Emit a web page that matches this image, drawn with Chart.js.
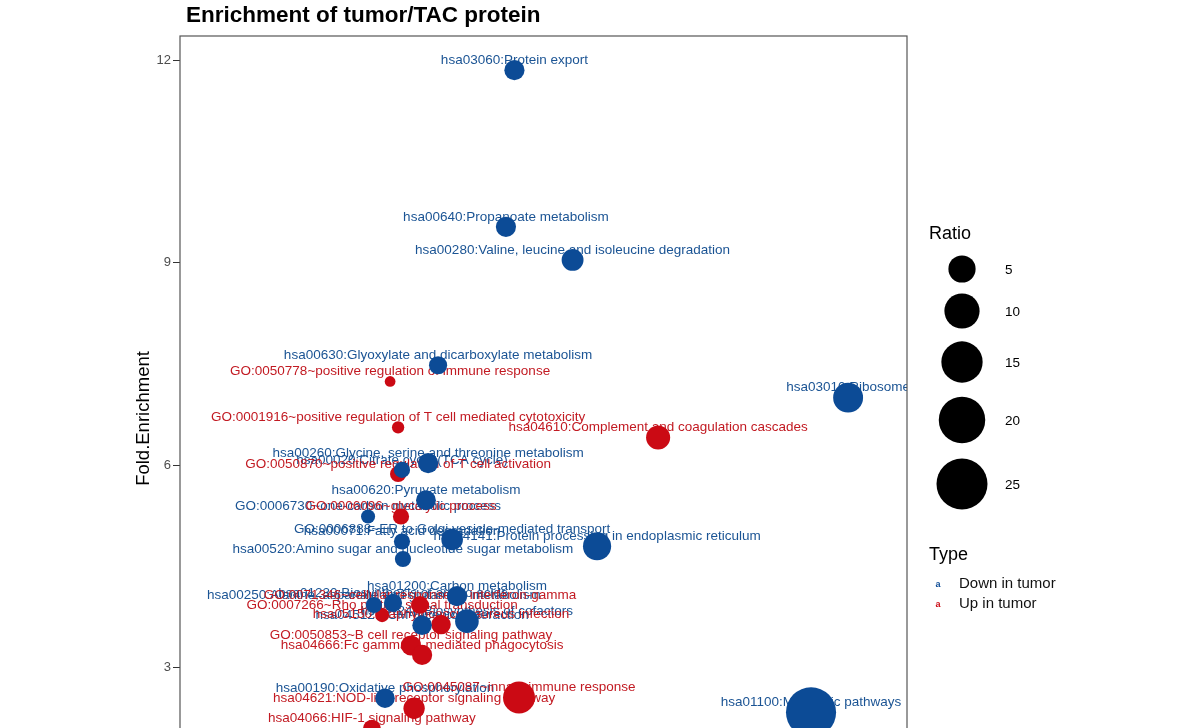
<!DOCTYPE html>
<html>
<head>
<meta charset="utf-8">
<script src="https://cdn.jsdelivr.net/npm/chart.js@4.4.1/dist/chart.umd.min.js"></script>
<style>
html, body { margin: 0; padding: 0; background: #fff; overflow: hidden; }
</style>
</head>
<body>
<canvas id="myChart" width="1200" height="860"></canvas>
<script>
/* data: Down in tumor */
const downTerms = [
    'hsa03060:Protein export',
    'hsa00640:Propanoate metabolism',
    'hsa00280:Valine, leucine and isoleucine degradation',
    'hsa00630:Glyoxylate and dicarboxylate metabolism',
    'hsa03010:Ribosome',
    'hsa00260:Glycine, serine and threonine metabolism',
    'hsa00020:Citrate cycle (TCA cycle)',
    'hsa00620:Pyruvate metabolism',
    'GO:0006730~one-carbon metabolic process',
    'hsa00071:Fatty acid degradation',
    'GO:0006888~ER to Golgi vesicle-mediated transport',
    'hsa04141:Protein processing in endoplasmic reticulum',
    'hsa00520:Amino sugar and nucleotide sugar metabolism',
    'hsa01200:Carbon metabolism',
    'hsa01230:Biosynthesis of amino acids',
    'hsa00250:Alanine, aspartate and glutamate metabolism',
    'hsa04512:ECM-receptor interaction',
    'hsa01240:Biosynthesis of cofactors',
    'hsa00190:Oxidative phosphorylation',
    'hsa01100:Metabolic pathways'
]
const downCount = [13.8, 13.45, 16.2, 10.65, 27.57, 10.24, 9.16, 10.15, 7.76, 9.16, 11.23, 17.21, 9.2, 11.43, 8.79, 8.0, 9.99, 11.84, 8.46, 26.04]
const downFold = [11.85, 9.53, 9.04, 7.48, 7.0, 6.03, 5.93, 5.48, 5.24, 4.87, 4.90, 4.80, 4.61, 4.06, 3.96, 3.93, 3.63, 3.69, 2.55, 2.34]
const downRatio = [2.0, 2.0, 2.6, 1.4, 6.5, 2.0, 0.9, 1.9, 0.5, 0.9, 2.5, 5.5, 0.9, 2.0, 1.4, 0.9, 1.8, 3.3, 1.8, 24]

/* data: Up in tumor */
const upTerms = [
    'GO:0050778~positive regulation of immune response',
    'GO:0001916~positive regulation of T cell mediated cytotoxicity',
    'hsa04610:Complement and coagulation cascades',
    'GO:0050870~positive regulation of T cell activation',
    'GO:0006096~glycolytic process',
    'GO:0071346~cellular response to interferon-gamma',
    'GO:0007266~Rho protein signal transduction',
    'hsa05150:Staphylococcus aureus infection',
    'GO:0050853~B cell receptor signaling pathway',
    'hsa04666:Fc gamma R-mediated phagocytosis',
    'GO:0045087~innate immune response',
    'hsa04621:NOD-like receptor signaling pathway',
    'hsa04066:HIF-1 signaling pathway',
    'hsa04620:Toll-like receptor signaling pathway'
]
const upCount = [8.67, 9.0, 19.73, 9.0, 9.12, 9.9, 8.34, 10.77, 9.53, 9.99, 13.99, 9.66, 7.92, 9.29]
const upFold = [7.24, 6.56, 6.41, 5.87, 5.24, 3.93, 3.78, 3.64, 3.33, 3.19, 2.56, 2.40, 2.10, 1.88]
const upRatio = [0.1, 0.25, 3.5, 0.9, 0.9, 1.3, 0.5, 1.8, 2.0, 2.0, 7.8, 2.4, 1.3, 1.3]

const ratioBreaks = [5, 10, 15, 20, 25]
const yTicks = [3, 6, 9, 12]
const typeNames = ['Down in tumor', 'Up in tumor']

/* style */
const blue = '#0C4B96'
const red = '#CB0A14'
const blueText = '#1B5494'
const redText = '#C21A22'
const FONT = '"Liberation Sans", Arial, sans-serif'

function radius(ratio) {
    return 4 + 4.3 * Math.sqrt(ratio)
}

function points(xs, ys, rs) {
    return xs.map((x, i) => ({ x: x, y: ys[i], r: radius(rs[i]) }))
}

const labelLayer = {
    id: 'labelLayer',
    beforeDatasetsDraw(chart) {
        const ctx = chart.ctx
        const area = chart.chartArea
        ctx.save()
        ctx.beginPath()
        ctx.rect(area.left, area.top, area.right - area.left, area.bottom - area.top)
        ctx.clip()
        ctx.font = '13.5px ' + FONT
        ctx.textAlign = 'center'
        ctx.textBaseline = 'middle'
        const sets = [[downTerms, blueText], [upTerms, redText]]
        sets.forEach((s, di) => {
            const meta = chart.getDatasetMeta(di)
            ctx.fillStyle = s[1]
            meta.data.forEach((el, i) => {
                ctx.fillText(s[0][i], el.x, el.y - 10)
            })
        })
        ctx.restore()
    },
    afterDraw(chart) {
        const ctx = chart.ctx
        const area = chart.chartArea
        ctx.save()
        // panel frame
        ctx.strokeStyle = '#555'
        ctx.lineWidth = 1.2
        ctx.strokeRect(area.left, area.top, area.right - area.left, area.bottom - area.top)

        // title
        ctx.fillStyle = '#000'
        ctx.font = 'bold 22.5px ' + FONT
        ctx.textAlign = 'left'
        ctx.textBaseline = 'middle'
        ctx.fillText('Enrichment of tumor/TAC protein', 186, 16)

        // y axis title
        ctx.save()
        ctx.translate(144, (area.top + area.bottom) / 2 + 2)
        ctx.rotate(-Math.PI / 2)
        ctx.textAlign = 'center'
        ctx.font = '18.5px ' + FONT
        ctx.fillText('Fold.Enrichment', 0, 0)
        ctx.restore()

        // size legend
        ctx.textAlign = 'left'
        ctx.font = '18px ' + FONT
        ctx.fillText('Ratio', 929, 234)
        const rowY = [269, 311, 362, 420, 484]
        ctx.font = '13.5px ' + FONT
        ratioBreaks.forEach((b, i) => {
            ctx.beginPath()
            ctx.arc(962, rowY[i], radius(b), 0, Math.PI * 2)
            ctx.fillStyle = '#000'
            ctx.fill()
            ctx.fillText(String(b), 1005, rowY[i] + 1)
        })

        // type legend
        ctx.font = '18px ' + FONT
        ctx.fillText('Type', 929, 555)
        const keyY = [584, 604]
        const keyCol = [blue, red]
        typeNames.forEach((t, i) => {
            ctx.fillStyle = keyCol[i]
            ctx.font = 'bold 9px ' + FONT
            ctx.textAlign = 'center'
            ctx.fillText('a', 938, keyY[i] + 1)
            ctx.fillStyle = '#111'
            ctx.font = '15px ' + FONT
            ctx.textAlign = 'left'
            ctx.fillText(t, 959, keyY[i])
        })
        ctx.restore()
    }
}

const ctx = document.getElementById('myChart')
const chart = new Chart(ctx, {
    type: 'bubble',
    data: {
        datasets: [{
            label: typeNames[0],
            data: points(downCount, downFold, downRatio),
            backgroundColor: blue,
            borderWidth: 0
        }, {
            label: typeNames[1],
            data: points(upCount, upFold, upRatio),
            backgroundColor: red,
            borderWidth: 0
        }]
    },
    options: {
        responsive: false,
        animation: false,
        devicePixelRatio: 1,
        layout: { padding: { top: 36, right: 293, left: 0, bottom: 6 } },
        plugins: {
            legend: { display: false },
            tooltip: { enabled: false }
        },
        scales: {
            x: {
                type: 'linear',
                min: 0,
                max: 30,
                border: { display: false },
                grid: { drawOnChartArea: false, tickLength: 7, color: '#333' },
                ticks: { stepSize: 5, color: '#4d4d4d', font: { size: 13, family: FONT } },
                title: { display: true, text: 'Count', color: '#000', font: { size: 17, family: FONT } }
            },
            y: {
                min: 1.086,
                max: 12.356,
                border: { display: false },
                grid: { drawOnChartArea: false, tickLength: 7, color: '#333' },
                ticks: { color: '#4d4d4d', padding: 2, font: { size: 13, family: FONT } },
                afterBuildTicks: s => { s.ticks = yTicks.map(v => ({ value: v })) },
                afterFit: s => { s.width = 180 }
            }
        }
    },
    plugins: [labelLayer]
})
</script>
</body>
</html>
